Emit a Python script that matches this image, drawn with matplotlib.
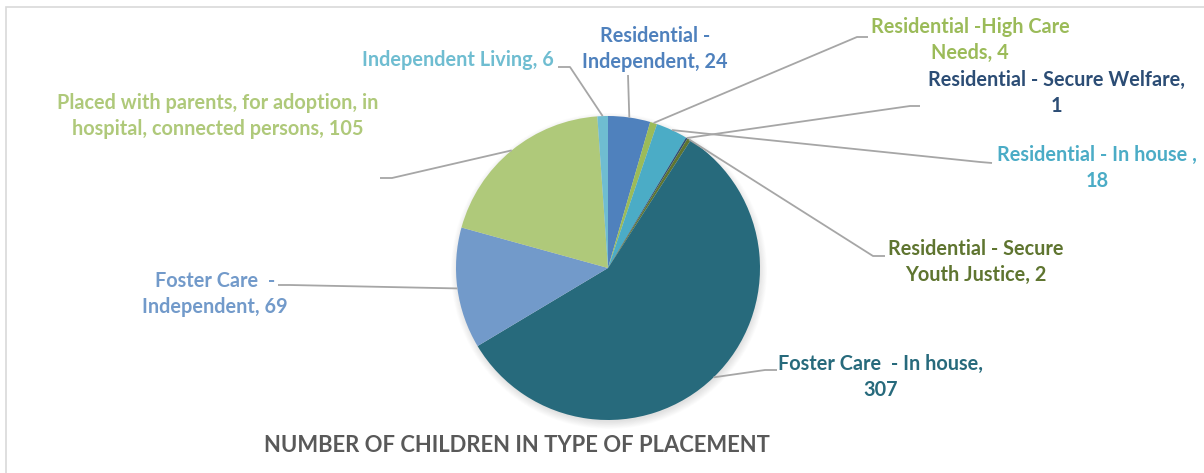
import matplotlib
matplotlib.use("Agg")
import matplotlib.pyplot as plt
import numpy as np
from matplotlib.patches import Circle, Rectangle

# ---- data ----
categories = ["Residential - Independent", "Residential -High Care Needs",
              "Residential - In house", "Residential - Secure Welfare",
              "Residential - Secure Youth Justice", "Foster Care  - In house",
              "Foster Care  - Independent",
              "Placed with parents, for adoption, in hospital, connected persons",
              "Independent Living"]
values = [24, 4, 18, 1, 2, 307, 69, 105, 6]
label_templates = ["Residential -\nIndependent, {}",
                   "Residential -High Care\nNeeds, {}",
                   "Residential - In house ,\n{}",
                   "Residential - Secure Welfare,\n{}",
                   "Residential - Secure\nYouth Justice, {}",
                   "Foster Care  - In house,\n{}",
                   "Foster Care  -\nIndependent, {}",
                   "Placed with parents, for adoption, in\nhospital, connected persons, {}",
                   "Independent Living, {}"]
title = "NUMBER OF CHILDREN IN TYPE OF PLACEMENT"

colors = ["#4F81BD", "#9BBB59", "#4BACC6", "#2C4D75", "#5F7530",
          "#276A7C", "#729ACA", "#AFC97A", "#6FBDD1"]

# ---- layout (pixel coords, origin top-left) ----
W, H = 1204, 473
def P(x, y):
    return (x, H - y)

pie_center = (608, 268)
pie_radius = 152
text_pos = [(655, 49), (970, 40), (1097, 168), (1056, 93), (976, 262),
            (881, 377), (215, 294), (218, 116), (458, 60)]
leader_pts = [[(628, 75)],
              [(857, 37), (868, 37)],
              [(980, 162), (992, 163)],
              [(910, 106), (920, 106)],
              [(873, 256), (885, 256)],
              [(765, 370), (777, 370)],
              [(290, 285), (278, 285)],
              [(392, 178), (380, 178)],
              [(570, 67), (558, 67)]]

fig = plt.figure(figsize=(W / 100, H / 100), dpi=100)
ax = fig.add_axes([0, 0, 1, 1])

# border of chart area
ax.add_patch(Rectangle(P(6, H + 20), W + 20, H + 13, fill=False,
                       edgecolor="#D9D9D9", linewidth=1.2, zorder=0))

# soft shadow
cx, cy = P(*pie_center)
for i in range(10):
    ax.add_patch(Circle((cx + 1, cy - 3), pie_radius + 6 - i * 0.8,
                        facecolor="#000000", alpha=0.012, edgecolor="none",
                        zorder=0.5))

wedges, _ = ax.pie(values, colors=colors, startangle=90, counterclock=False,
                   center=(cx, cy), radius=pie_radius,
                   wedgeprops=dict(linewidth=0))
for w in wedges:
    w.set_zorder(1)

ax.set_xlim(0, W)
ax.set_ylim(0, H)
ax.set_aspect("equal")
ax.axis("off")

font = "Lato"
for w, tmpl, v, col, tp, lp in zip(wedges, label_templates, values, colors,
                                    text_pos, leader_pts):
    mid = np.deg2rad((w.theta1 + w.theta2) / 2)
    sx = cx + pie_radius * np.cos(mid)
    sy = cy + pie_radius * np.sin(mid)
    xs = [sx] + [p[0] for p in lp]
    ys = [sy] + [H - p[1] for p in lp]
    ax.plot(xs, ys, color="#A6A6A6", linewidth=1.3, zorder=2,
            solid_capstyle="butt")
    ax.text(*P(*tp), tmpl.format(v), color=col, fontsize=14.3,
            fontweight="bold", family=font, ha="center", va="center",
            multialignment="center", linespacing=1.38, zorder=3)

ax.text(*P(517, 445), title, color="#595959", fontsize=15.8,
        fontweight="bold", family=font, ha="center", va="center")

fig.savefig("out.png", dpi=100)
